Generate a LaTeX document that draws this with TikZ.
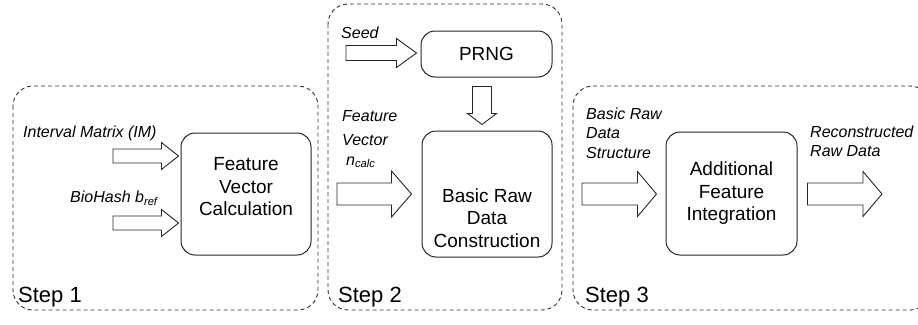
\documentclass[tikz,border=0pt]{standalone}
\usepackage{fontspec}
\setmainfont{Liberation Sans}
\usetikzlibrary{calc}

\tikzset{
  stepframe/.style={draw=black!80, dash pattern=on 4pt off 3pt, rounded corners=20pt, line width=0.9pt},
  procbox/.style={draw=black!85, rounded corners=14pt, line width=1pt, align=center, inner sep=0pt, font=\fontsize{19}{22.5}\selectfont},
  boxtext/.style={align=center, inner sep=0pt, font=\fontsize{19}{22.5}\selectfont},
  inlabel/.style={anchor=west, align=left, inner sep=0pt, font=\fontsize{16}{19.5}\selectfont\itshape},
  steplabel/.style={anchor=base west, inner sep=0pt, font=\fontsize{22}{26}\selectfont},
  blockarrow/.style={draw=black!85, line width=0.9pt, fill=white, line join=miter},
}

% tail, tip, half body, half head, head length
\newcommand{\harrow}[5]{%
  \draw[blockarrow] let \p1=(#1), \p2=(#2) in
    (\x1,\y1+#3) -- (\x2-#5,\y1+#3) -- (\x2-#5,\y1+#4) -- (\x2,\y1)
    -- (\x2-#5,\y1-#4) -- (\x2-#5,\y1-#3) -- (\x1,\y1-#3) -- cycle;}
\newcommand{\varrow}[5]{%
  \draw[blockarrow] let \p1=(#1), \p2=(#2) in
    (\x1-#3,\y1) -- (\x1-#3,\y2+#5) -- (\x1-#4,\y2+#5) -- (\x1,\y2)
    -- (\x1+#4,\y2+#5) -- (\x1+#3,\y2+#5) -- (\x1+#3,\y1) -- cycle;}

\begin{document}
\begin{tikzpicture}[x=1pt, y=-1pt]
	\useasboundingbox (0,0) rectangle (918,324);
	\clip (0,0) rectangle (918,324);
	% Step frames
	\draw[stepframe] (13,86) rectangle (318,310);
	\draw[stepframe] (328,4) rectangle (562,310);
	\draw[stepframe] (573,86) rectangle (930,310);
	\node[steplabel] (step1) at (18,302) {Step 1};
	\node[steplabel] (step2) at (338,302) {Step 2};
	\node[steplabel] (step3) at (585,302) {Step 3};
	% Boxes
	\node[procbox, minimum width=130, minimum height=122] (fvc) at (246,194) {};
	\node[boxtext] (fvctext) at ($(fvc.center)+(0,-7)$) {Feature\\Vector\\Calculation};
	\node[procbox, minimum width=131, minimum height=46] (prng) at (486.5,54) {PRNG};
	\node[procbox, minimum width=130, minimum height=126] (brdc) at (487,194) {};
	\node[boxtext] (brdctext) at ($(brdc.center)+(0,24)$) {Basic Raw\\Data\\Construction};
	\node[procbox, minimum width=131, minimum height=123] (afi) at (731.5,193.5) {Additional\\Feature\\Integration};
	% Labels
	\node[inlabel] (imlabel) at (23,133) {Interval Matrix (IM)};
	\node[inlabel] (bhlabel) at (70,198) {BioHash \textit{b}\textsubscript{\itshape ref}};
	\node[inlabel] (seedlabel) at (341,33) {Seed};
	\node[inlabel, font=\fontsize{16}{24}\selectfont\itshape] (fvlabel) at (342,139) {Feature\\Vector\\[-4pt]\hspace{4pt}\textit{n}\textsubscript{\itshape calc}};
	\node[inlabel] (rdlabel) at (586,133) {Basic Raw\\Data\\Structure};
	\node[inlabel] (outlabel) at (810,141.5) {Reconstructed\\Raw Data};
	% Arrows
	\coordinate (imtail) at (113,156);
	\coordinate (imtip) at ($(fvc.west |- imtail)+(-2,0)$);
	\coordinate (bhtail) at (113,223);
	\coordinate (bhtip) at ($(fvc.west |- bhtail)+(-2,0)$);
	\coordinate (seedtail) at (346,53);
	\coordinate (seedtip) at ($(prng.west |- seedtail)+(-4,0)$);
	\coordinate (fvtail) at (337,194);
	\coordinate (fvtip) at ($(brdc.west |- fvtail)+(-10,0)$);
	\coordinate (rdtail) at (582,194);
	\coordinate (rdtip) at ($(afi.west |- rdtail)+(-9,0)$);
	\coordinate (outtail) at ($(afi.east |- rdtail)+(10,0)$);
	\coordinate (outtip) at (882,194);
	\coordinate (dtop) at ($(prng.south -| 482,0)+(0,9)$);
	\coordinate (dtip) at ($(brdc.north -| 482,0)+(0,-6)$);
	\harrow{imtail}{imtip}{7}{13.5}{17}
	\harrow{bhtail}{bhtip}{7}{13.5}{17}
	\harrow{seedtail}{seedtip}{7.5}{14.5}{20}
	\harrow{fvtail}{fvtip}{11}{23}{20}
	\harrow{rdtail}{rdtip}{11}{22.5}{19}
	\harrow{outtail}{outtip}{11}{22.5}{19}
	\varrow{dtop}{dtip}{9.5}{14.5}{11}
\end{tikzpicture}
\end{document}
